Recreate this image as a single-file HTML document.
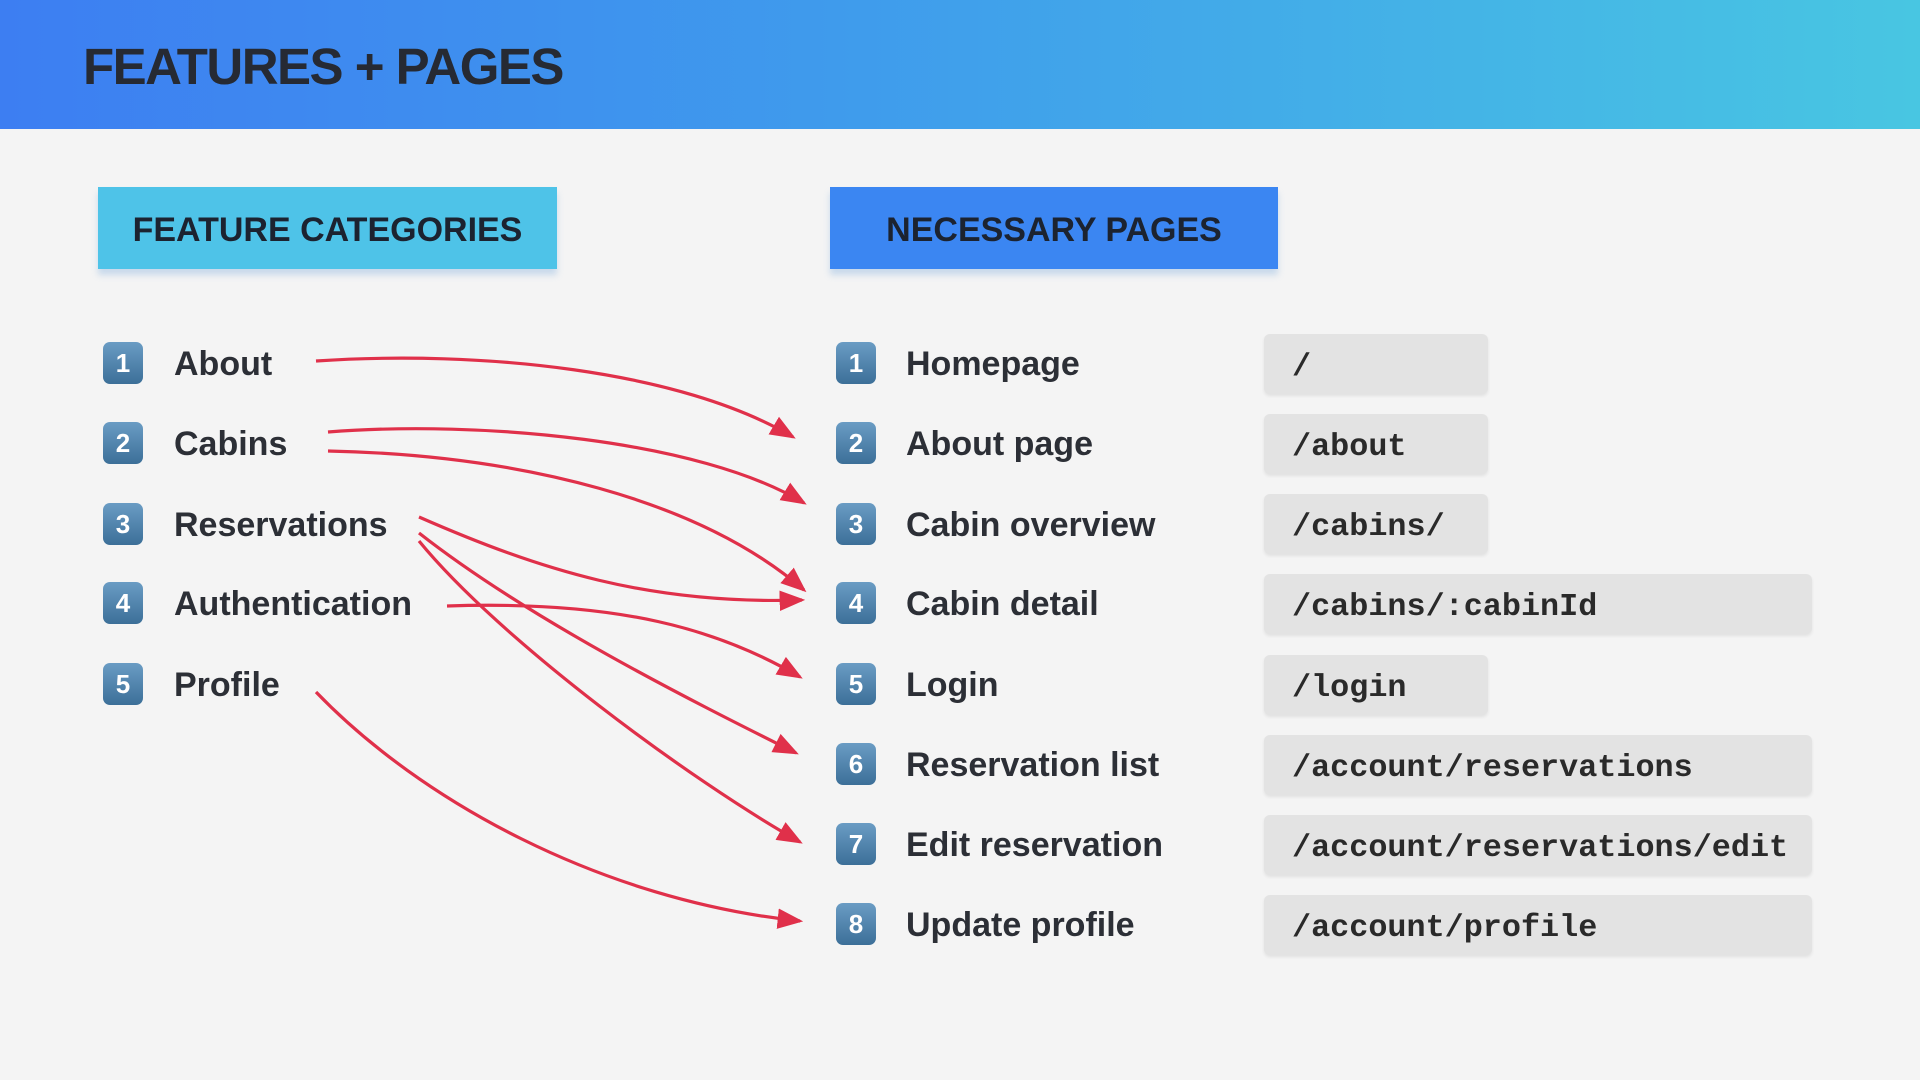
<!DOCTYPE html>
<html><head><meta charset="utf-8"><style>
*{margin:0;padding:0;box-sizing:border-box}
body{width:1920px;height:1080px;background:#f4f4f4;position:relative;overflow:hidden;font-family:"Liberation Sans",sans-serif}
.hdr{position:absolute;left:0;top:0;width:1920px;height:129px;background:linear-gradient(90deg,#3d7ef2 0%,#3f9cec 45%,#48c6e2 100%)}
.title{position:absolute;left:83px;top:37px;font-size:51px;font-weight:bold;color:#262a33;letter-spacing:-1.5px}
.box{position:absolute;top:187px;height:82px;font-size:34px;font-weight:bold;color:#1c2330;display:flex;align-items:center;justify-content:center;box-shadow:0 6px 6px rgba(120,170,220,.35);padding-top:4px}
.b{position:absolute;width:40px;height:42px;border-radius:7px;background:linear-gradient(180deg,#6a9cc4,#3c6f98);color:#fff;font-size:26px;font-weight:bold;display:flex;align-items:center;justify-content:center}
.t{position:absolute;font-size:34px;font-weight:bold;color:#2c2f36;margin-top:3px}
.c{position:absolute;left:1264px;height:60px;background:#e3e3e3;border-radius:6px;font-family:"Liberation Mono",monospace;font-weight:bold;font-size:31.8px;color:#2a2a2a;padding-left:28px;padding-top:6px;display:flex;align-items:center;box-shadow:0 2px 3px rgba(0,0,0,.08)}
</style></head><body>
<div class="hdr"></div>
<div class="title">FEATURES + PAGES</div>
<div class="box" style="left:98px;width:459px;background:#4ec3e8">FEATURE CATEGORIES</div>
<div class="box" style="left:830px;width:448px;background:#3b86f2">NECESSARY PAGES</div>

<div class="b" style="left:103px;top:342px">1</div><div class="t" style="left:174px;top:342px">About</div>
<div class="b" style="left:103px;top:422px">2</div><div class="t" style="left:174px;top:422px">Cabins</div>
<div class="b" style="left:103px;top:503px">3</div><div class="t" style="left:174px;top:503px">Reservations</div>
<div class="b" style="left:103px;top:582px">4</div><div class="t" style="left:174px;top:582px">Authentication</div>
<div class="b" style="left:103px;top:663px">5</div><div class="t" style="left:174px;top:663px">Profile</div>

<div class="b" style="left:836px;top:342px">1</div><div class="t" style="left:906px;top:342px">Homepage</div>
<div class="b" style="left:836px;top:422px">2</div><div class="t" style="left:906px;top:422px">About page</div>
<div class="b" style="left:836px;top:503px">3</div><div class="t" style="left:906px;top:503px">Cabin overview</div>
<div class="b" style="left:836px;top:582px">4</div><div class="t" style="left:906px;top:582px">Cabin detail</div>
<div class="b" style="left:836px;top:663px">5</div><div class="t" style="left:906px;top:663px">Login</div>
<div class="b" style="left:836px;top:743px">6</div><div class="t" style="left:906px;top:743px">Reservation list</div>
<div class="b" style="left:836px;top:823px">7</div><div class="t" style="left:906px;top:823px">Edit reservation</div>
<div class="b" style="left:836px;top:903px">8</div><div class="t" style="left:906px;top:903px">Update profile</div>

<div class="c" style="top:334px;width:224px">/</div>
<div class="c" style="top:414px;width:224px">/about</div>
<div class="c" style="top:494px;width:224px">/cabins/</div>
<div class="c" style="top:574px;width:548px">/cabins/:cabinId</div>
<div class="c" style="top:655px;width:224px">/login</div>
<div class="c" style="top:735px;width:548px">/account/reservations</div>
<div class="c" style="top:815px;width:548px">/account/reservations/edit</div>
<div class="c" style="top:895px;width:548px">/account/profile</div>

<svg style="position:absolute;left:0;top:0" width="1920" height="1080">
<defs><marker id="a" markerWidth="8" markerHeight="8" refX="7" refY="4" orient="auto" markerUnits="strokeWidth"><path d="M0,0.8 L8,4 L0,7.2 Z" fill="#e0304a"/></marker></defs>
<g fill="none" stroke="#e0304a" stroke-width="3.2" marker-end="url(#a)">
<path d="M316,361 C480,350 680,370 793,437"/>
<path d="M328,432 C480,420 700,440 804,503"/>
<path d="M328,451 C520,455 700,500 804,590"/>
<path d="M419,517 C540,570 650,605 802,600"/>
<path d="M419,533 C530,620 690,700 796,753"/>
<path d="M419,541 C500,640 690,780 800,842"/>
<path d="M447,606 C620,600 720,630 800,677"/>
<path d="M316,692 C420,800 600,900 800,921"/>
</g></svg>
</body></html>
